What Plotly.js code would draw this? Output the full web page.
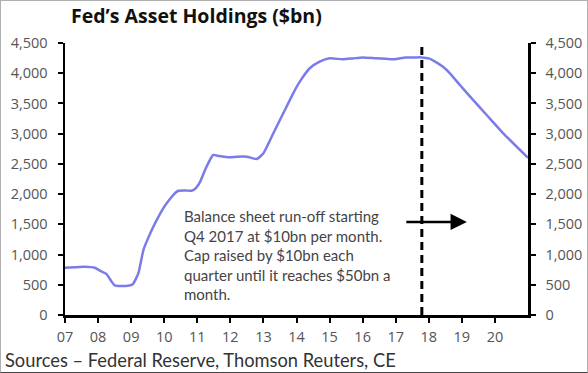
<!DOCTYPE html>
<html>
<head>
<meta charset="utf-8">
<script src="https://cdn.plot.ly/plotly-3.0.1.min.js"></script>
<style>
  html, body { margin: 0; padding: 0; background: #fff; }
  #frame { width: 586px; height: 371px; border: 1px solid #b0b0b0; border-bottom-color: #444; }
  #chart { width: 586px; height: 371px; }
</style>
</head>
<body>
<div id="frame"><div id="chart"></div></div>
<script>
// ---- data ----
const years = [2007.0, 2007.3, 2007.6, 2007.9, 2008.1, 2008.25, 2008.4, 2008.5, 2008.7, 2008.9,
  2009.05, 2009.22, 2009.37, 2009.52, 2009.67, 2009.82, 2009.97, 2010.12, 2010.27, 2010.43,
  2010.65, 2010.83, 2010.95, 2011.1, 2011.25, 2011.48, 2011.65, 2011.8, 2012.0, 2012.2,
  2012.5, 2012.8, 2013.0, 2013.3, 2013.6, 2013.9, 2014.1, 2014.4, 2014.7, 2015.0,
  2015.4, 2015.7, 2016.0, 2016.4, 2016.7, 2016.95, 2017.3, 2017.6, 2017.79, 2018.0,
  2018.19, 2018.42, 2018.64, 2018.94, 2019.25, 2019.75, 2020.25, 2020.76, 2021.0];
const holdings = [780, 790, 798, 782, 720, 680, 560, 490, 480, 485,
  510, 693, 1075, 1280, 1461, 1620, 1765, 1880, 1985, 2055,
  2060, 2055, 2095, 2220, 2420, 2647, 2630, 2620, 2610, 2620,
  2620, 2581, 2675, 3006, 3337, 3668, 3860, 4082, 4191, 4247,
  4230, 4245, 4262, 4247, 4238, 4230, 4260, 4262, 4262, 4245,
  4191, 4110, 3999, 3805, 3612, 3309, 3006, 2730, 2600];
const tickYears = [2007, 2008, 2009, 2010, 2011, 2012, 2013, 2014, 2015, 2016, 2017, 2018, 2019, 2020];
const tickLabels = ["07", "08", "09", "10", "11", "12", "13", "14", "15", "16", "17", "18", "19", "20"];
const yTicks = [0, 500, 1000, 1500, 2000, 2500, 3000, 3500, 4000, 4500];
const runoffStart = 2017.79;
const titleText = "Fed\u2019s Asset Holdings ($bn)";
const sourceText = "Sources \u2013 Federal Reserve, Thomson Reuters, CE";
const noteText = "Balance sheet run-off starting<br>Q4 2017 at $10bn per month.<br>Cap raised by $10bn each<br>quarter until it reaches $50bn a<br>month.";
const arrowTip = {x: 2019.15, y: 1540};

const FONT = "Lato, 'Open Sans', sans-serif";
const TICKFONT = "'Open Sans', Lato, sans-serif";
const tickFont = {family: TICKFONT, size: 14.5, color: "#555"};

const axisCommon = {
  range: [0, 4500],
  tickvals: yTicks,
  tickformat: ",",
  showline: true, linecolor: "#000", linewidth: 2.5,
  ticks: "outside", ticklen: 5, tickwidth: 2, tickcolor: "#000",
  ticklabelstandoff: 7,
  showgrid: false, zeroline: false,
  tickfont: tickFont, fixedrange: true
};

const data = [
  {x: years, y: holdings, type: "scatter", mode: "lines",
   line: {color: "#7b7bea", width: 2.5, shape: "spline", smoothing: 0.5},
   hoverinfo: "skip", showlegend: false},
  {x: [years[0]], y: [holdings[0]], yaxis: "y2", type: "scatter", mode: "markers",
   marker: {opacity: 0}, hoverinfo: "skip", showlegend: false}
];

const layout = {
  width: 586, height: 371,
  margin: {l: 64, r: 59, t: 42, b: 57},
  paper_bgcolor: "#fff", plot_bgcolor: "#fff",
  font: {family: FONT, color: "#444"},
  showlegend: false,
  title: {text: "<b>" + titleText + "</b>", font: {family: "'Open Sans', Lato, sans-serif", size: 19.5, color: "#111"},
          x: 70 / 586, xref: "container", xanchor: "left",
          y: 1 - 15 / 371, yref: "container", yanchor: "middle"},
  xaxis: {
    range: [2007, 2021], tickvals: tickYears, ticktext: tickLabels,
    showline: true, linecolor: "#000", linewidth: 2.5,
    ticks: "outside", ticklen: 5, tickwidth: 2, tickcolor: "#000",
    ticklabelstandoff: 2,
    showgrid: false, zeroline: false, tickfont: tickFont, fixedrange: true
  },
  yaxis: Object.assign({}, axisCommon, {side: "left"}),
  yaxis2: Object.assign({}, axisCommon, {side: "right", overlaying: "y"}),
  shapes: [
    {type: "line", xref: "x", yref: "paper", x0: runoffStart, x1: runoffStart, y0: 0, y1: 1,
     line: {color: "#000", width: 3, dash: "8px,5px"}}
  ],
  annotations: [
    {text: noteText, xref: "paper", yref: "paper", x: 117 / 463, y: 1 - (204 - 42) / 272,
     xanchor: "left", yanchor: "top", align: "left", showarrow: false,
     font: {family: FONT, size: 15, color: "#444"}},
    {text: "", xref: "x", yref: "y", x: arrowTip.x, y: arrowTip.y, ax: -62, ay: 0,
     showarrow: true, arrowhead: 2, arrowsize: 1.3, arrowwidth: 2.5, arrowcolor: "#000"},
    {text: sourceText, xref: "paper", yref: "paper", x: -62 / 463, y: (314 - 359) / 272,
     xanchor: "left", yanchor: "middle", showarrow: false,
     font: {family: FONT, size: 18.3, color: "#333"}}
  ]
};

Plotly.newPlot("chart", data, layout, {displayModeBar: false, staticPlot: true});
</script>
</body>
</html>
